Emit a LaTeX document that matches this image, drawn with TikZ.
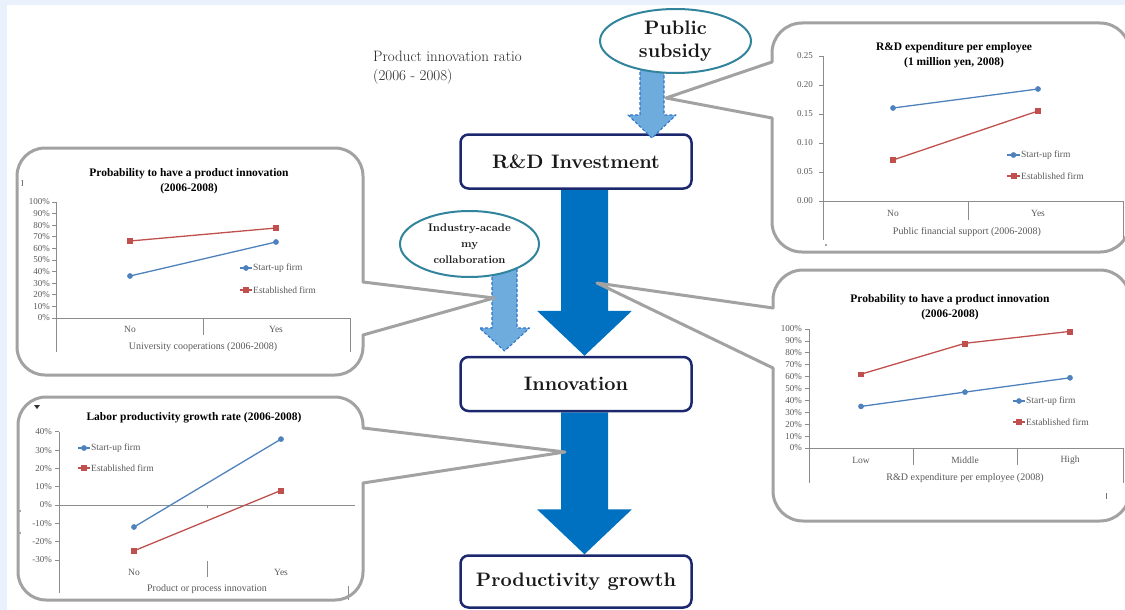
\documentclass[tikz,border=0pt]{standalone}
\usepackage{fontspec}
\newfontfamily\chartfont{Liberation Serif}
\newfontfamily\stagefont{lmroman10-bold}[Extension=.otf]
\usetikzlibrary{shapes.geometric,backgrounds,plotmarks}

\definecolor{framebg}{RGB}{233,241,252}
\definecolor{flowblue}{RGB}{0,112,192}
\definecolor{subblue}{RGB}{111,172,222}
\definecolor{subedge}{RGB}{46,117,200}
\definecolor{boxnavy}{RGB}{28,40,110}
\definecolor{ovalteal}{RGB}{49,132,155}
\definecolor{calloutgray}{RGB}{162,162,162}
\definecolor{axisgray}{RGB}{140,140,140}
\definecolor{labelgray}{RGB}{89,89,89}
\definecolor{startupblue}{RGB}{79,129,189}
\definecolor{establred}{RGB}{192,80,77}

\tikzset{
  stagebox/.style={draw=boxnavy, line width=2.5pt, rounded corners=8pt, fill=white,
    minimum width=231pt, minimum height=54pt, inner sep=0pt, text=black!90,
    font=\stagefont\fontsize{19.5}{22}\selectfont},
  driver/.style={ellipse, draw=ovalteal, line width=2pt, fill=white, align=center,
    inner sep=0pt, text=black!90},
  subflow/.style={fill=subblue, draw=subedge, line width=1.1pt,
    dash pattern=on 3pt off 2pt, line join=round},
  callout/.style={draw=calloutgray, line width=3pt, line cap=round, line join=round},
  axisline/.style={draw=axisgray, line width=0.7pt},
  charttitle/.style={font=\chartfont\bfseries\fontsize{11.5}{15}\selectfont, align=center, inner sep=0pt},
  ticklabel/.style={font=\chartfont\fontsize{9}{10}\selectfont, text=labelgray, anchor=east, inner sep=0pt},
  catlabel/.style={font=\chartfont\fontsize{9.5}{11}\selectfont, text=labelgray, inner sep=0pt},
  axistitle/.style={font=\chartfont\fontsize{10}{12}\selectfont, text=labelgray, inner sep=0pt},
  legendtext/.style={font=\chartfont\fontsize{9.5}{11}\selectfont, text=labelgray, anchor=west, inner sep=0pt},
  startup/.style={startupblue, line width=1.3pt, mark=*, mark size=2.6pt,
    mark options={solid, fill=startupblue, line width=0.4pt}},
  established/.style={establred, line width=1.3pt, mark=square*, mark size=2.4pt,
    mark options={solid, fill=establred, line width=0.4pt}},
}

% thick block arrow from the bottom of one stage to the top of the next
\newcommand{\flowdown}[2]{%
  \fill[flowblue] ([xshift=-15pt]#1.south) -- ([xshift=-15pt,yshift=45pt]#2.north)
    -- ([xshift=-39pt,yshift=45pt]#2.north) -- ([xshift=8.5pt]#2.north)
    -- ([xshift=56pt,yshift=45pt]#2.north) -- ([xshift=32pt,yshift=45pt]#2.north)
    -- ([xshift=32pt]#1.south) -- cycle;}

\begin{document}
\begin{tikzpicture}[x=1pt, y=-1pt]
\useasboundingbox (0,0) rectangle (1125,610);

% ---- main chain ------------------------------------------------------------
\node[stagebox] (rd)   at (576,161.5) {R\&D Investment};
\node[stagebox] (inno) at (576,384)   {Innovation};
\node[stagebox, minimum height=52pt] (prod) at (576,581.5) {Productivity growth};

\begin{pgfonlayer}{background}
  \fill[framebg] (0,0) rectangle (1125,5);
  \fill[framebg] (0,0) rectangle (7,610);
  \flowdown{rd}{inno}
  \flowdown{inno}{prod}
\end{pgfonlayer}

% ---- policy inputs (dashed arrows under the ovals) ------------------------
\coordinate (subsidytop) at (652,62);
\coordinate (subsidytip) at (652,138);
\draw[subflow] (subsidytop) ++(-12,0) -- ++(0,53) -- ++(-12,0) -- (subsidytip)
  -- ++(24,-23) -- ++(-12,0) -- ++(0,-53) -- cycle;
\coordinate (collabtop) at (504.5,262);
\coordinate (collabtip) at (504.5,351);
\draw[subflow] (collabtop) ++(-12.5,0) -- ++(0,66) -- ++(-12.5,0) -- (collabtip)
  -- ++(25,-23) -- ++(-12.5,0) -- ++(0,-66) -- cycle;

\node[driver, minimum width=151pt, minimum height=64pt,
  font=\stagefont\fontsize{19.5}{23}\selectfont] (subsidy) at (675.5,41) {Public\\subsidy};
\node[driver, minimum width=139pt, minimum height=66pt,
  font=\stagefont\fontsize{11}{16}\selectfont] (collab) at (469.5,244)
  {Industry-acade\\my\\collaboration};

\node[anchor=north west, align=left, inner sep=0pt, text=black!85,
  font=\fontsize{15}{19}\selectfont] (ratio) at (373,51)
  {Product innovation ratio\\(2006 - 2008)};

% ---- chart: R&D expenditure vs public support ------------------------------
\node[charttitle] (rdtitle) at (954,55) {R\&D expenditure per employee\\(1 million yen, 2008)};
\draw[axisline] (823,56) -- (823,240);
\draw[axisline] (823,201) -- (1123,201);
\foreach \x/\yb in {968/220, 1123/240} \draw[axisline] (\x,201) -- (\x,\yb);
\foreach \v/\lab [count=\i] in {0/0.00,0.05/0.05,0.1/0.10,0.15/0.15,0.2/0.20,0.25/0.25}{
  \draw[axisline] (819,{201-580*\v}) -- (823,{201-580*\v});
  \node[ticklabel] (rdtick\i) at (813,{201-580*\v}) {\lab};
}
\node[catlabel] (rdno)  at (893,213)  {No};
\node[catlabel] (rdyes) at (1038,213) {Yes};
\node[axistitle] (rdxlab) at (967,232) {Public financial support (2006-2008)};
\draw[startup]     plot coordinates {(893,108) (1038,89)};
\draw[established] plot coordinates {(893,160) (1038,111)};
\draw[startup, mark indices={2}]     plot coordinates {(1007,155) (1013.5,155) (1020,155)};
\draw[established, mark indices={2}] plot coordinates {(1007,176) (1013.5,176) (1020,176)};
\node[legendtext] (rdleg1) at (1021,155) {Start-up firm};
\node[legendtext] (rdleg2) at (1021,176) {Established firm};

% ---- chart: product innovation vs university cooperation --------------------
\node[charttitle] (uctitle) at (189,181) {Probability to have a product innovation\\(2006-2008)};
\draw[axisline] (56,202) -- (56,352);
\draw[axisline] (56,318) -- (350,318);
\foreach \x/\yb in {203/335, 350/352} \draw[axisline] (\x,318) -- (\x,\yb);
\foreach \p [count=\i] in {0,10,...,100}{
  \draw[axisline] (52,{318-1.16*\p}) -- (56,{318-1.16*\p});
  \node[ticklabel] (uctick\i) at (50,{318-1.16*\p}) {\p\%};
}
\node[catlabel] (ucno)  at (130,329) {No};
\node[catlabel] (ucyes) at (276,329) {Yes};
\node[axistitle] (ucxlab) at (203,347) {University cooperations (2006-2008)};
\draw[startup]     plot coordinates {(130,276) (276,242)};
\draw[established] plot coordinates {(130,241) (276,228)};
\draw[startup, mark indices={2}]     plot coordinates {(240,268) (246,268) (252,268)};
\draw[established, mark indices={2}] plot coordinates {(240,290) (246,290) (252,290)};
\node[legendtext] (ucleg1) at (253,268) {Start-up firm};
\node[legendtext] (ucleg2) at (253,290) {Established firm};

% ---- chart: product innovation vs R&D intensity ------------------------------
\node[charttitle] (rititle) at (950,307) {Probability to have a product innovation\\(2006-2008)};
\draw[axisline] (809,329) -- (809,483);
\draw[axisline] (809,448) -- (1123,448);
\foreach \x/\yb in {913/465, 1017/465, 1123/483} \draw[axisline] (\x,448) -- (\x,\yb);
\foreach \p [count=\i] in {0,10,...,100}{
  \draw[axisline] (805,{448-1.19*\p}) -- (809,{448-1.19*\p});
  \node[ticklabel] (ritick\i) at (802,{448-1.19*\p}) {\p\%};
}
\node[catlabel] (rilow)  at (861,460)  {Low};
\node[catlabel] (rimid)  at (965,460)  {Middle};
\node[catlabel] (rihigh) at (1070,460) {High};
\node[axistitle] (rixlab) at (965,478) {R\&D expenditure per employee (2008)};
\draw[startup]     plot coordinates {(861,406.4) (965,392.1) (1070,377.8)};
\draw[established] plot coordinates {(861,374.2) (965,343.3) (1070,331.4)};
\draw[startup, mark indices={2}]     plot coordinates {(1013,401) (1019,401) (1025,401)};
\draw[established, mark indices={2}] plot coordinates {(1013,422) (1019,422) (1025,422)};
\node[legendtext] (rileg1) at (1026,401) {Start-up firm};
\node[legendtext] (rileg2) at (1026,422) {Established firm};

% ---- chart: labour productivity growth vs innovation ------------------------
\node[charttitle] (lptitle) at (194,418) {Labor productivity growth rate (2006-2008)};
\draw[axisline] (59,432) -- (59,593);
\draw[axisline] (59,505) -- (355,505);
\draw[axisline] (207,505) -- (207,508);
\draw[axisline] (207,561) -- (207,577);
\draw[axisline] (348,586) -- (348,600);
\foreach \v [count=\i] in {-30,-20,...,40}{
  \draw[axisline] (55,{505-1.83*\v}) -- (59,{505-1.83*\v});
  \node[ticklabel] (lptick\i) at (52,{505-1.83*\v}) {\v\%};
}
\node[catlabel] (lpno)  at (134,572) {No};
\node[catlabel] (lpyes) at (281,572) {Yes};
\node[axistitle] (lpxlab) at (207,589) {Product or process innovation};
\draw[startup]     plot coordinates {(134,527) (281,439.1)};
\draw[established] plot coordinates {(134,550.8) (281,490.4)};
\draw[startup, mark indices={2}]     plot coordinates {(78,448) (84,448) (90,448)};
\draw[established, mark indices={2}] plot coordinates {(78,468) (84,468) (90,468)};
\node[legendtext] (lpleg1) at (91,448) {Start-up firm};
\node[legendtext] (lpleg2) at (91,468) {Established firm};

% stray marks inside the frames
\node[font=\chartfont\fontsize{7}{8}\selectfont, inner sep=0pt] (stray) at (22,184) {]};
\fill[black!80] (34,405) -- (40,405) -- (37,409) -- cycle;
\foreach \px/\py in {20/511, 20/533, 826/245} \fill[black!70] (\px,\py) circle (0.8);
\fill[black!55] (1105.5,493) rectangle (1106.8,499);

% ---- callout frames pointing at the arrows -----------------------------------
\coordinate (subsidypt) at (666,98);
\coordinate (collabpt)  at (494,298);
\coordinate (rdflowpt)  at (597,283);
\coordinate (innoflowpt) at (565,452);

\draw[callout, rounded corners=30pt] (772,118) -- (772,252) -- (1130,252) -- (1130,23) -- (772,23) -- (772,62);
\draw[callout] (772,62) -- (subsidypt) -- (772,118);

\draw[callout, rounded corners=28pt] (363,335) -- (363,375) -- (17,375) -- (17,148) -- (363,148) -- (363,282);
\draw[callout] (363,282) -- (collabpt) -- (363,335);

\draw[callout, rounded corners=30pt] (773,368) -- (773,521) -- (1130,521) -- (1130,270) -- (773,270) -- (773,308);
\draw[callout] (773,308) -- (rdflowpt) -- (773,368);

\draw[callout, rounded corners=28pt] (363,483) -- (363,600) -- (18,600) -- (18,397) -- (363,397) -- (363,428);
\draw[callout] (363,428) -- (innoflowpt) -- (363,483);
\end{tikzpicture}
\end{document}
